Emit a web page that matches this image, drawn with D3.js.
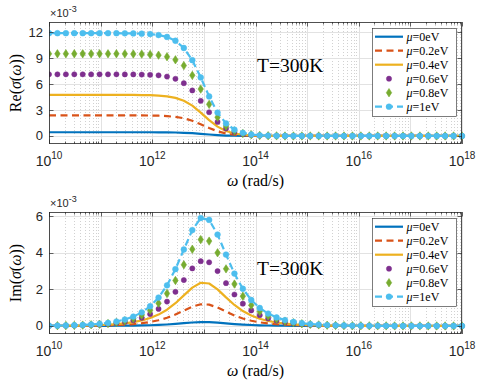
<!DOCTYPE html>
<html><head><meta charset="utf-8">
<script src="https://cdn.jsdelivr.net/npm/d3@7"></script>
<style>body{margin:0;background:#fff}svg{display:block}</style>
</head><body>
<svg id="c" width="490" height="384"></svg>
<script>
// ---- data (values ×1e-3) ----
const omegaExp = [10.000,10.163,10.327,10.490,10.653,10.816,10.980,11.143,11.306,11.469,11.633,11.796,11.959,12.122,12.286,12.449,12.612,12.776,12.939,13.102,13.265,13.429,13.592,13.755,13.918,14.082,14.245,14.408,14.571,14.735,14.898,15.061,15.224,15.388,15.551,15.714,15.878,16.041,16.204,16.367,16.531,16.694,16.857,17.020,17.184,17.347,17.510,17.673,17.837,18.000];
const seriesNames = ["\u03bc=0eV","\u03bc=0.2eV","\u03bc=0.4eV","\u03bc=0.6eV","\u03bc=0.8eV","\u03bc=1eV"];
const Z = [0,0,0,0,0,0,0,0,0,0,0,0,0,0,0,0,0,0,0,0,0,0,0,0,0,0,0,0,0,0];
const re_mu0  = [0.43,0.43,0.43,0.43,0.43,0.43,0.43,0.43,0.43,0.43,0.43,0.43,0.43,0.42,0.41,0.40,0.37,0.32,0.25,0.17,0.10,0.05,0.03,0.01,0,0,0,0,0,0,0,0,0,0,0,0,0,0,0,0,0,0,0,0,0,0,0,0,0,0];
const re_mu02 = [2.39,2.39,2.39,2.39,2.39,2.39,2.39,2.39,2.39,2.39,2.39,2.38,2.37,2.35,2.30,2.21,2.05,1.76,1.36,0.92,0.54,0.29,0.15,0.07,0.03,0.02,0.01,0,0,0,0,0,0,0,0,0,0,0,0,0,0,0,0,0,0,0,0,0,0,0];
const re_mu04 = [4.76,4.76,4.76,4.76,4.76,4.76,4.76,4.76,4.76,4.76,4.75,4.74,4.72,4.68,4.59,4.41,4.08,3.51,2.71,1.83,1.08,0.58,0.29,0.14,0.07,0.03,0.02,0.01,0,0,0,0,0,0,0,0,0,0,0,0,0,0,0,0,0,0,0,0,0,0];
const re_mu06 = [7.14,7.14,7.14,7.14,7.14,7.14,7.14,7.14,7.14,7.13,7.13,7.11,7.08,7.02,6.88,6.62,6.11,5.27,4.07,2.75,1.63,0.87,0.44,0.21,0.10,0.05,0.02,0.01,0,0,0,0,0,0,0,0,0,0,0,0,0,0,0,0,0,0,0,0,0,0];
const re_mu08 = [9.52,9.52,9.52,9.52,9.52,9.52,9.52,9.52,9.52,9.51,9.50,9.48,9.44,9.36,9.18,8.82,8.15,7.02,5.43,3.66,2.17,1.16,0.59,0.29,0.14,0.06,0.03,0.01,0,0,0,0,0,0,0,0,0,0,0,0,0,0,0,0,0,0,0,0,0,0];
const re_mu1  = [11.90,11.90,11.90,11.90,11.90,11.90,11.90,11.90,11.90,11.89,11.88,11.85,11.80,11.69,11.47,11.03,10.19,8.78,6.78,4.58,2.71,1.45,0.73,0.36,0.17,0.08,0.04,0.02,0.01,0,0,0,0,0,0,0,0,0,0,0,0,0,0,0,0,0,0,0,0,0];
const im_mu0  = [0,0.001,0.001,0.001,0.002,0.003,0.004,0.006,0.009,0.013,0.018,0.027,0.039,0.056,0.080,0.112,0.151,0.189,0.213,0.209,0.180,0.141,0.103,0.073,0.051,0.035,0.024,0.017,0.012,0.008,0.005,0.004,0.003,0.002,0.001,0.001,0,0,0,0,0,0,0,0,0,0,0,0,0,0];
const im_mu02 = [0.002,0.003,0.005,0.007,0.011,0.016,0.023,0.033,0.048,0.070,0.102,0.149,0.216,0.311,0.445,0.623,0.838,1.051,1.183,1.163,1.002,0.782,0.574,0.407,0.284,0.197,0.136,0.093,0.064,0.044,0.030,0.021,0.014,0.010,0.007,0.005,0.003,0.002,0.001,0.001,0,0,0,0,0,0,0,0,0,0];
const im_mu04 = [0.005,0.007,0.010,0.015,0.021,0.031,0.045,0.066,0.096,0.140,0.204,0.296,0.430,0.620,0.886,1.240,1.669,2.094,2.357,2.316,1.996,1.558,1.144,0.811,0.566,0.392,0.270,0.186,0.128,0.088,0.060,0.041,0.028,0.020,0.013,0.009,0.006,0.004,0.003,0.002,0.001,0.001,0.001,0,0,0,0,0,0,0];
const im_mu06 = [0.007,0.010,0.015,0.022,0.032,0.047,0.068,0.099,0.144,0.210,0.306,0.445,0.645,0.930,1.329,1.861,2.504,3.141,3.535,3.474,2.994,2.337,1.715,1.217,0.849,0.588,0.405,0.278,0.191,0.132,0.090,0.062,0.043,0.029,0.020,0.014,0.009,0.006,0.004,0.003,0.002,0.001,0.001,0.001,0,0,0,0,0,0];
const im_mu08 = [0.010,0.014,0.020,0.029,0.043,0.062,0.091,0.132,0.193,0.280,0.408,0.593,0.859,1.240,1.772,2.481,3.339,4.188,4.713,4.631,3.992,3.116,2.287,1.623,1.132,0.783,0.540,0.371,0.255,0.175,0.120,0.083,0.057,0.039,0.027,0.018,0.013,0.009,0.006,0.004,0.003,0.002,0.001,0.001,0.001,0,0,0,0,0];
const im_mu1  = [0.012,0.017,0.025,0.037,0.054,0.078,0.114,0.165,0.241,0.350,0.510,0.741,1.074,1.550,2.215,3.101,4.173,5.235,5.891,5.789,4.990,3.895,2.859,2.029,1.415,0.979,0.675,0.464,0.319,0.219,0.151,0.103,0.071,0.049,0.033,0.023,0.016,0.011,0.007,0.005,0.004,0.003,0.002,0.001,0.001,0.001,0,0,0,0];
const xTickExps = [10,12,14,16,18];
const reTicks = [0,3,6,9,12];
const imTicks = [0,2,4,6];

// ---- styles ----
const colors = ["#0072BD","#D95319","#EDB120","#7E2F8E","#77AC30","#4DBEEE"];
const styles = [
  {line:true, dash:null, marker:null},
  {line:true, dash:"7,4.5", marker:null},
  {line:true, dash:null, marker:null},
  {line:false, dash:null, marker:"dot"},
  {line:false, dash:null, marker:"diamond"},
  {line:true, dash:"7,4", marker:"circle"}
];

const svg = d3.select("#c");
const L = 49, R = 462;
const x = d3.scaleLog().domain([1e10,1e18]).range([L,R]);
const omega = omegaExp.map(e => Math.pow(10,e));
const txt = "#262626";
const serif = "'Liberation Serif','DejaVu Serif',serif";
const sans = "'Liberation Sans',Arial,sans-serif";

function panel(opt){
  const {top,bottom,ydom,yticks,data,ylab,tY} = opt;
  const y = d3.scaleLinear().domain(ydom).range([bottom,top]);
  const g = svg.append("g");
  // grid
  const allX = x.ticks();
  const isMajor = v => Math.abs(Math.log10(v) - Math.round(Math.log10(v))) < 1e-9;
  const minors = allX.filter(v => !isMajor(v));
  const majors = xTickExps.map(e => Math.pow(10,e));
  const majorsAll = allX.filter(isMajor);
  g.selectAll(".mg").data(minors).enter().append("line")
    .attr("x1",d=>Math.round(x(d))+0.5).attr("x2",d=>Math.round(x(d))+0.5)
    .attr("y1",top).attr("y2",bottom)
    .attr("stroke","#bdbdbd").attr("stroke-width",0.7).attr("stroke-dasharray","1,2");
  g.selectAll(".Mg").data(majorsAll).enter().append("line")
    .attr("x1",d=>Math.round(x(d))+0.5).attr("x2",d=>Math.round(x(d))+0.5)
    .attr("y1",top).attr("y2",bottom)
    .attr("stroke","#e2e2e2").attr("stroke-width",1);
  g.selectAll(".yg").data(yticks).enter().append("line")
    .attr("x1",L).attr("x2",R)
    .attr("y1",d=>Math.round(y(d))+0.5).attr("y2",d=>Math.round(y(d))+0.5)
    .attr("stroke","#e2e2e2").attr("stroke-width",1);

  // data
  const clipId = "clip"+top;
  svg.append("clipPath").attr("id",clipId).append("rect")
    .attr("x",L).attr("y",top-4).attr("width",R-L+4).attr("height",bottom-top+4);
  const dg = g.append("g").attr("clip-path","url(#"+clipId+")");
  data.forEach((vals,i)=>{
    const st = styles[i];
    const pts = vals.map((v,k)=>[x(omega[k]), y(v)]);
    if(st.line){
      dg.append("path").attr("d", d3.line()(pts))
        .attr("fill","none").attr("stroke",colors[i]).attr("stroke-width",2.2)
        .attr("stroke-dasharray",st.dash).attr("stroke-linejoin","round");
    }
    drawMarkers(dg, pts, st.marker, colors[i]);
  });

  // axes box
  g.append("rect").attr("x",L+0.5).attr("y",top+0.5).attr("width",R-L-1).attr("height",bottom-top-1)
    .attr("fill","none").attr("stroke",txt).attr("stroke-width",0.8);
  // x ticks (top & bottom)
  allX.forEach(v=>{
    const px = Math.round(x(v))+0.5;
    const len = isMajor(v) ? 4.5 : 2.5;
    g.append("line").attr("x1",px).attr("x2",px).attr("y1",bottom).attr("y2",bottom-len).attr("stroke",txt).attr("stroke-width",0.7);
    g.append("line").attr("x1",px).attr("x2",px).attr("y1",top).attr("y2",top+len).attr("stroke",txt).attr("stroke-width",0.7);
  });
  yticks.forEach(v=>{
    const py = Math.round(y(v))+0.5;
    g.append("line").attr("x1",L).attr("x2",L+4.5).attr("y1",py).attr("y2",py).attr("stroke",txt).attr("stroke-width",0.7);
    g.append("line").attr("x1",R).attr("x2",R-4.5).attr("y1",py).attr("y2",py).attr("stroke",txt).attr("stroke-width",0.7);
    g.append("text").attr("x",43).attr("y",y(v)+4.5).attr("text-anchor","end")
      .attr("font-family",sans).attr("font-size",13).attr("fill",txt).text(v);
  });
  // x tick labels
  xTickExps.forEach(e=>{
    const t = g.append("text").attr("x",x(Math.pow(10,e))).attr("y",bottom+22)
      .attr("text-anchor","middle").attr("font-family",sans).attr("fill",txt);
    t.append("tspan").attr("font-size",14).text("10");
    t.append("tspan").attr("font-size",10).attr("dy",-7).text(e);
  });
  // exponent
  const ex = g.append("text").attr("x",L+1).attr("y",top-5).attr("font-family",sans).attr("fill",txt);
  ex.append("tspan").attr("font-size",11).text("\u00d710");
  ex.append("tspan").attr("font-size",9).attr("dy",-5).text("-3");
  // x label
  const xl = g.append("text").attr("x",(L+R)/2).attr("y",bottom+42).attr("text-anchor","middle")
    .attr("font-family",serif).attr("font-size",16).attr("fill","#000");
  xl.append("tspan").attr("font-style","italic").text("\u03c9");
  xl.append("tspan").text(" (rad/s)");
  // y label
  const yl = g.append("text").attr("transform",`translate(21,${(top+bottom)/2}) rotate(-90)`)
    .attr("text-anchor","middle").attr("font-family",serif).attr("font-size",16).attr("fill","#000");
  yl.append("tspan").text(ylab+"(");
  yl.append("tspan").attr("font-style","italic").text("\u03c3");
  yl.append("tspan").text("(");
  yl.append("tspan").attr("font-style","italic").text("\u03c9");
  yl.append("tspan").text("))");
  // T=300K
  g.append("text").attr("x",257).attr("y",tY).attr("font-family",serif).attr("font-size",19.5)
    .attr("fill","#000").text("T=300K");
  // legend
  const lx = 372, ly = top+6, lw = 84, lh = 88;
  const lg = g.append("g");
  lg.append("rect").attr("x",lx+0.5).attr("y",ly+0.5).attr("width",lw).attr("height",lh)
    .attr("fill","#fff").attr("stroke",txt).attr("stroke-width",0.6);
  seriesNames.forEach((nm,i)=>{
    const cy = ly + 8.7 + i*14;
    const st = styles[i];
    if(st.line){
      lg.append("line").attr("x1",375).attr("x2",403).attr("y1",cy).attr("y2",cy)
        .attr("stroke",colors[i]).attr("stroke-width",2.2).attr("stroke-dasharray",st.dash);
    }
    drawMarkers(lg, [[389,cy]], st.marker, colors[i]);
    const t = lg.append("text").attr("x",406.5).attr("y",cy+4).attr("font-family",serif)
      .attr("font-size",12).attr("fill","#000");
    t.append("tspan").attr("font-style","italic").text("\u03bc");
    t.append("tspan").text(nm.slice(1));
  });
}

function drawMarkers(sel, pts, type, col){
  if(!type) return;
  if(type==="diamond"){
    sel.selectAll(null).data(pts).enter().append("path")
      .attr("d",d=>`M${d[0]},${d[1]-4.2}L${d[0]+2.7},${d[1]}L${d[0]},${d[1]+4.2}L${d[0]-2.7},${d[1]}Z`)
      .attr("fill",col).attr("stroke",col).attr("stroke-width",0.6);
  } else {
    sel.selectAll(null).data(pts).enter().append("circle")
      .attr("cx",d=>d[0]).attr("cy",d=>d[1]).attr("r", type==="dot"?2.6:2.9)
      .attr("fill",col).attr("stroke",col).attr("stroke-width",0.5);
  }
}

panel({top:22,bottom:144,ydom:[-0.93,13.2],yticks:reTicks,ylab:"Re",tY:72,
  data:[re_mu0,re_mu02,re_mu04,re_mu06,re_mu08,re_mu1]});
panel({top:212,bottom:334,ydom:[-0.44,6.22],yticks:imTicks,ylab:"Im",tY:275,
  data:[im_mu0,im_mu02,im_mu04,im_mu06,im_mu08,im_mu1]});
</script>
</body></html>
